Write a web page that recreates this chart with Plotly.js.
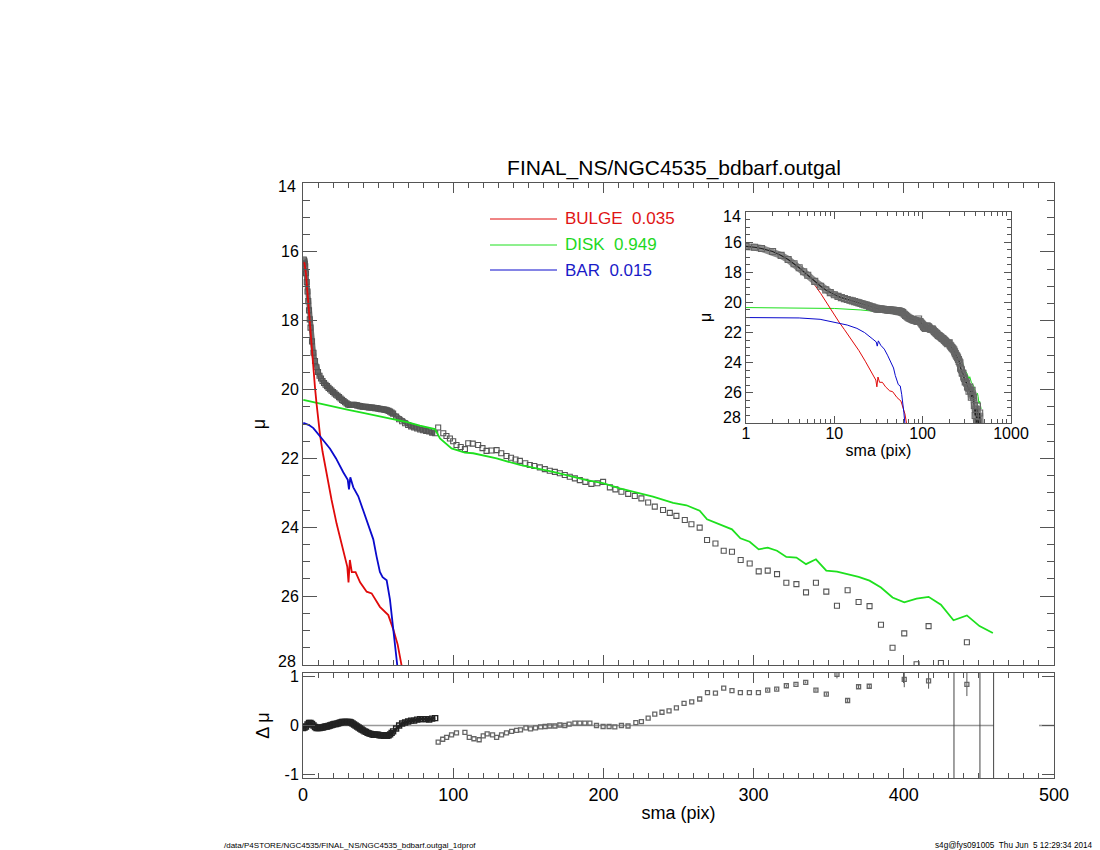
<!DOCTYPE html>
<html><head><meta charset="utf-8">
<script src="https://cdn.plot.ly/plotly-3.0.1.min.js"></script>
<style>html,body{margin:0;padding:0;background:#fff}#chart{width:1100px;height:850px}</style>
</head><body><div id="chart"></div>
<script>
// ---------- DATA ----------
const obsSma = [0.5,0.75,1,1.25,1.5,2,2.5,3,3.5,4,4.5,5,6,7,8,9,10,11,12,13,14,15,16,17,18,19,20,21,22,23,24,25,26,27,28,29,30,31,32,33,34,35,36,37,38,39,40,41,42,43,44,45,46,47,48,49,50,51,52,53,54,55,56,57,58,59,60,62,64,66,68,70,72,74,76,78,80,82,84,86,88,
  90,93.4,95.5,97.8,100,102.2,105,107.8,110,113,116.6,119.5,122.2,125.5,128.9,132,135.5,138.5,141.5,144.4,148,151,154,157.7,161,164.3,167.7,171,174.3,177.6,181,184.3,188,192,196,199.8,204.3,208,212,216.5,220.9,225.3,229.8,234.2,239.7,244.2,248.6,254.2,258.6,264.1,269,274.6,280.1,285.6,291.4,297.4,303.4,309.4,315.6,321.8,328.5,334.9,341.5,348.4,355.5,362.6,369.9,377.2,384.8,392.5,400.3,408.5,416.5,424.7,433.1,442,450.4,459.3];
const obsMu = [16.22,16.25,16.28,16.34,16.42,16.62,16.88,17.15,17.43,17.7,17.96,18.2,18.6,18.93,19.17,19.35,19.49,19.6,19.68,19.75,19.81,19.86,19.9,19.95,19.99,20.03,20.07,20.11,20.15,20.18,20.22,20.26,20.3,20.33,20.37,20.4,20.43,20.45,20.45,20.44,20.44,20.45,20.46,20.47,20.48,20.49,20.5,20.5,20.5,20.51,20.52,20.52,20.52,20.53,20.54,20.54,20.55,20.56,20.57,20.57,20.58,20.59,20.6,20.62,20.64,20.67,20.7,20.78,20.86,20.92,20.98,21.03,21.07,21.1,21.13,21.16,21.18,21.2,21.22,21.25,21.27,
  21.10,21.27,21.35,21.42,21.5,21.61,21.67,21.73,21.56,21.57,21.61,21.7,21.78,21.77,21.76,21.85,21.93,21.98,22.03,22.07,22.14,22.19,22.22,22.26,22.31,22.36,22.39,22.43,22.48,22.53,22.58,22.63,22.68,22.74,22.72,22.68,22.84,22.9,22.97,23.03,23.09,23.16,23.28,23.40,23.50,23.58,23.67,23.79,23.91,24.01,24.37,24.47,24.68,24.71,24.95,25.05,25.28,25.26,25.36,25.61,25.65,25.89,25.61,25.87,26.28,25.83,26.17,26.29,26.83,27.50,27.08,27.98,26.87,27.94,28.6,27.34,28.7,28.9];
const denseLimit = 89;   // inner, finely sampled part of the profile

const bulgeSma = [0.7,1,1.5,2,3,4,5,6,7,8,9,10,11.3,13,15.8,19,22.4,26.8,29.5,30.3,31.2,32.5,35,38,42.4,45.7,48,51.2,56.8,60,63,66];
const bulgeMu  = [16.3,16.34,16.48,16.65,17.2,17.8,18.35,18.85,19.4,19.95,20.4,20.8,21.3,21.8,22.5,23.2,23.9,24.7,25.15,25.6,24.95,25.3,25.3,25.6,25.87,25.92,26.1,26.31,26.55,26.95,27.4,28.1];

const diskSma = [0.2,10,20,30.2,40,50,60,70,77.8,87.8,91.2,98.9,107.8,113.3,128.9,144.4,166.6,188.8,199.7,210.9,233,246.4,255.3,264.1,269,279.7,285.6,291.2,297.4,303.4,309.4,315.6,321.8,328.5,334.9,341.5,348.4,355.5,362.6,369.9,377.2,384.8,392.5,400.3,408.5,416.5,424.7,433.1,442,450.4,459.3];
const diskMu  = [20.3,20.4,20.5,20.59,20.68,20.77,20.85,20.95,21.05,21.15,21.42,21.71,21.83,21.85,22.0,22.19,22.39,22.63,22.72,22.87,23.11,23.29,23.36,23.52,23.77,23.97,24.06,24.32,24.42,24.64,24.59,24.68,24.86,24.88,25.07,24.93,25.26,25.29,25.36,25.44,25.55,25.75,26.04,26.18,26.07,26.02,26.25,26.70,26.56,26.87,27.07];

const barSma = [0.2,2,4,6.9,10,14,18,22,26.8,29.8,30.6,31.5,33.5,36.8,40,43.4,46.8,49,51.2,53,55.7,57.9,61.2,63.5];
const barMu  = [20.97,20.99,21.03,21.12,21.3,21.5,21.72,22.0,22.4,22.62,22.9,22.55,22.84,23.1,23.5,23.95,24.35,24.85,25.3,25.45,25.54,26.1,27.28,28.3];

const resDenseSma = [0,1,2,3,4,5,6,7,8,9,10,11,12,13,14,15,16,17,18,19,20,21,22,23,24,25,26,27,28,29,30,31,32,33,34,35,36,37,38,39,40,41,42,43,44,45,46,47,48,49,50,51,52,53,54,55,56,57,58,59,60,62,64,66,68,70,72,74,76,78,80,82,84,86,88];
const resDenseDmu = [-0.05,-0.04,-0.02,0.02,0.05,0.05,0.03,0.0,-0.03,-0.05,-0.05,-0.05,-0.04,-0.04,-0.03,-0.02,-0.02,-0.01,0.0,0.01,0.02,0.03,0.03,0.04,0.05,0.06,0.07,0.07,0.07,0.07,0.07,0.07,0.06,0.04,0.02,0.0,-0.02,-0.04,-0.06,-0.08,-0.1,-0.12,-0.13,-0.15,-0.16,-0.17,-0.18,-0.19,-0.19,-0.19,-0.19,-0.2,-0.2,-0.2,-0.21,-0.21,-0.21,-0.2,-0.18,-0.15,-0.12,-0.06,0.0,0.04,0.06,0.08,0.1,0.1,0.12,0.13,0.13,0.13,0.12,0.14,0.15];

const resSparseSma = [90,93,95.6,98.9,102.2,107.8,110.7,113.8,117.3,120,122.6,126.2,128.9,132.2,135.5,138.9,142.2,144.8,148.4,151.5,154.8,158.2,161.2,164.3,167.7,171,174.3,177.2,181,184.3,187.6,191,195.4,199.8,203.8,207.6,212,216.4,221.6,225.3,229.8,234.2,239,243.7,248.6,253.7,258.8,264.1,269.3,274.6,280.1,285.6,291.2,297.2,303.2,309.4,315.4,321.8,328.2,334.7,341.5,348.4,355.5,362.6,369.9,377,400.3,416.5,442];
const resSparseDmu = [-0.34,-0.28,-0.24,-0.19,-0.15,-0.14,-0.24,-0.27,-0.29,-0.21,-0.17,-0.19,-0.24,-0.19,-0.15,-0.12,-0.10,-0.09,-0.05,-0.07,-0.05,-0.03,-0.02,-0.01,-0.01,0.01,0.0,0.03,0.05,0.05,0.05,0.05,0.0,-0.02,-0.02,-0.03,0.0,-0.01,0.06,0.08,0.15,0.23,0.27,0.30,0.36,0.45,0.48,0.54,0.67,0.66,0.76,0.71,0.67,0.67,0.67,0.72,0.74,0.81,0.84,0.88,0.72,0.64,1.04,0.51,0.79,0.80,0.94,0.91,0.84];
const resSparseErr = [0,0,0,0,0,0,0,0,0,0,0,0,0,0,0,0,0,0,0,0,0,0,0,0,0,0,0,0,0,0,0,0,0,0,0,0,0,0,0,0,0,0,0,0,0,0,0,0,0,0,0,0,0,0,0,0.02,0.02,0.02,0.02,0.02,0.03,0.03,0.08,0.04,0.04,0.04,0.16,0.16,0.24];

const badSma = [433.4, 450.7, 459.8];          // points with undefined residual (full-height bars)
const zeroLineSma = [0, 460, null, 490, 500];   // zero reference line (gap as in original)

const compNames = ['BULGE', 'DISK', 'BAR'];
const compFrac  = ['0.035', '0.949', '0.015'];
const muTicks = [14, 16, 18, 20, 22, 24, 26, 28];
const resTicks = [-1, 0, 1];
const resTickText = ['-1', '0', '1'];
const logTicks = [1, 10, 100, 1000];
const plotTitle = 'FINAL_NS/NGC4535_bdbarf.outgal';
const footLeft  = '/data/P4STORE/NGC4535/FINAL_NS/NGC4535_bdbarf.outgal_1dprof';
const footRight = 's4g@fys091005  Thu Jun  5 12:29:34 2014';

// ---------- STYLE ----------
const W = 1100, H = 850;
const px = v => v / W, py = v => 1 - v / H;
const FONT = 'Liberation Sans, Arial, Helvetica, sans-serif';
const cRed = '#e00a0a', cGreen = '#1ee01e', cBlue = '#0a0acc';
const axColor = '#555';
const resRange = [-1.07, 1.07];

const denseIdx = obsSma.map((s, i) => s <= denseLimit ? i : -1).filter(i => i >= 0);
const denseSma = denseIdx.map(i => obsSma[i]);
const denseMu = denseIdx.map(i => obsMu[i]);

const traces = [
  {x: denseSma, y: denseMu, xaxis: 'x', yaxis: 'y', mode: 'lines', line: {color: '#6a6a6a', width: 5}},
  {x: obsSma, y: obsMu, xaxis: 'x', yaxis: 'y', mode: 'markers', type: 'scatter',
   marker: {symbol: 'square-open', size: 5, color: '#555', line: {width: 1.1}}},
  {x: diskSma, y: diskMu, xaxis: 'x', yaxis: 'y', mode: 'lines', line: {color: cGreen, width: 1.8}},
  {x: bulgeSma, y: bulgeMu, xaxis: 'x', yaxis: 'y', mode: 'lines', line: {color: cRed, width: 1.8}},
  {x: barSma, y: barMu, xaxis: 'x', yaxis: 'y', mode: 'lines', line: {color: cBlue, width: 1.8}},

  {x: zeroLineSma, y: zeroLineSma.map(v => v === null ? null : 0), xaxis: 'x2', yaxis: 'y2', mode: 'lines',
   line: {color: '#999', width: 1.6}, connectgaps: false},
  {x: badSma.flatMap(s => [s, s, null]), y: badSma.flatMap(() => [resRange[0], resRange[1], null]),
   xaxis: 'x2', yaxis: 'y2', mode: 'lines', line: {color: '#444', width: 1}, connectgaps: false},
  {x: resDenseSma, y: resDenseDmu, xaxis: 'x2', yaxis: 'y2', mode: 'lines+markers',
   line: {color: '#222', width: 3},
   marker: {symbol: 'square-open', size: 5, color: '#222', line: {width: 1.4}}},
  {x: resSparseSma, y: resSparseDmu, xaxis: 'x2', yaxis: 'y2', mode: 'markers',
   marker: {symbol: 'square-open', size: 4, color: '#666', line: {width: 1.3}},
   error_y: {type: 'data', array: resSparseErr, visible: true, color: '#555', thickness: 1, width: 0}},

  {x: diskSma, y: diskMu, xaxis: 'x3', yaxis: 'y3', mode: 'lines', line: {color: cGreen, width: 1}},
  {x: bulgeSma, y: bulgeMu, xaxis: 'x3', yaxis: 'y3', mode: 'lines', line: {color: cRed, width: 1}},
  {x: barSma, y: barMu, xaxis: 'x3', yaxis: 'y3', mode: 'lines', line: {color: cBlue, width: 1}},
  {x: obsSma, y: obsMu, xaxis: 'x3', yaxis: 'y3', mode: 'lines', line: {color: '#8a8a8a', width: 7}},
  {x: obsSma, y: obsMu, xaxis: 'x3', yaxis: 'y3', mode: 'lines+markers',
   line: {color: '#222', width: 1.2},
   marker: {symbol: 'square-open', size: 6, color: '#666', line: {width: 1.1}}}
];

const logMinor = [];
[1, 10, 100].forEach(d => { for (let k = 2; k <= 9; k++) logMinor.push(k * d); });

const baseAx = {showline: true, linecolor: axColor, linewidth: 1, mirror: 'ticks', ticks: 'inside',
  tickcolor: axColor, showgrid: false, zeroline: false, fixedrange: true,
  tickfont: {family: FONT, size: 16, color: '#000'}};

// end labels of the mu axes are nudged inward (as in the original), drawn as annotations
const hideEnds = arr => arr.map((v, i) => (i === 0 || i === arr.length - 1) ? '' : String(v));

const layout = {
  width: W, height: H, margin: {l: 0, r: 0, t: 0, b: 0},
  paper_bgcolor: '#fff', plot_bgcolor: 'rgba(0,0,0,0)', showlegend: false,
  font: {family: FONT, color: '#000'},
  title: {text: plotTitle, x: px(674), xanchor: 'center', y: py(168), yanchor: 'middle',
          font: {family: FONT, size: 21, color: '#000'}},
  xaxis: Object.assign({}, baseAx, {domain: [px(303), px(1054)], range: [0, 500], anchor: 'y',
    tick0: 0, dtick: 100, ticklen: 10, showticklabels: false,
    minor: {dtick: 10, ticklen: 5, ticks: 'inside', tickcolor: axColor, showgrid: false}}),
  yaxis: Object.assign({}, baseAx, {domain: [py(665), py(183)], range: [28, 14], anchor: 'x',
    tickvals: muTicks, ticktext: hideEnds(muTicks), ticklen: 14,
    minor: {dtick: 0.5, ticklen: 7, ticks: 'inside', tickcolor: axColor, showgrid: false},
    title: {text: 'μ', standoff: 10, font: {family: FONT, size: 18}}}),
  xaxis2: Object.assign({}, baseAx, {domain: [px(303), px(1054)], range: [0, 500], anchor: 'y2',
    tick0: 0, dtick: 100, ticklen: 10, tickfont: {family: FONT, size: 18, color: '#000'},
    minor: {dtick: 10, ticklen: 5, ticks: 'inside', tickcolor: axColor, showgrid: false},
    title: {text: 'sma (pix)', standoff: 2, font: {family: FONT, size: 18}}}),
  yaxis2: Object.assign({}, baseAx, {domain: [py(778), py(673)], range: resRange, anchor: 'x2',
    tickvals: resTicks, ticktext: resTickText, ticklen: 12,
    title: {text: 'Δ μ', standoff: 10, font: {family: FONT, size: 18}}}),
  xaxis3: Object.assign({}, baseAx, {type: 'log', domain: [px(746), px(1011)], range: [0, 3], anchor: 'y3',
    tickvals: logTicks, ticktext: logTicks.map(String), ticklen: 7, ticklabelstandoff: -4,
    tickfont: {family: FONT, size: 16, color: '#000'},
    minor: {tickvals: logMinor, ticklen: 4, ticks: 'inside', tickcolor: axColor, showgrid: false},
    title: {text: 'sma (pix)', standoff: 0, font: {family: FONT, size: 16}}}),
  yaxis3: Object.assign({}, baseAx, {domain: [py(423), py(212)], range: [28, 14], anchor: 'x3',
    tickvals: muTicks, ticktext: hideEnds(muTicks), ticklen: 7,
    tickfont: {family: FONT, size: 16, color: '#000'},
    minor: {dtick: 0.5, ticklen: 4, ticks: 'inside', tickcolor: axColor, showgrid: false},
    title: {text: 'μ', standoff: 8, font: {family: FONT, size: 16}}}),
  shapes: [], annotations: []
};

// nudged end labels
const endLab = (txt, xRight, yPix, size) => layout.annotations.push({xref: 'paper', yref: 'paper',
  x: px(xRight), y: py(yPix), xanchor: 'right', yanchor: 'middle', showarrow: false,
  text: txt, font: {family: FONT, size: size, color: '#000'}});
endLab(String(muTicks[0]), 298, 187, 16);
endLab(String(muTicks[muTicks.length - 1]), 298, 661, 16);
endLab(String(muTicks[0]), 743, 216, 16);
endLab(String(muTicks[muTicks.length - 1]), 743, 417, 16);

const legColors = [cRed, cGreen, cBlue];
const legTextColors = ['#e01414', '#1ed81e', '#1a1ac8'];
const legY = [219, 245, 270];
compNames.forEach((n, i) => {
  layout.shapes.push({type: 'line', xref: 'paper', yref: 'paper', x0: px(490), x1: px(557),
    y0: py(legY[i]), y1: py(legY[i]), line: {color: legColors[i], width: 1}});
  layout.annotations.push({xref: 'paper', yref: 'paper', x: px(563), y: py(legY[i]),
    xanchor: 'left', yanchor: 'middle', showarrow: false,
    text: n + '\u00a0\u00a0' + compFrac[i], font: {family: FONT, size: 17, color: legTextColors[i]}});
});
layout.annotations.push({xref: 'paper', yref: 'paper', x: px(222), y: py(845), xanchor: 'left', yanchor: 'middle',
  showarrow: false, text: footLeft, font: {family: FONT, size: 8, color: '#000'}});
layout.annotations.push({xref: 'paper', yref: 'paper', x: px(1095), y: py(845), xanchor: 'right', yanchor: 'middle',
  showarrow: false, text: footRight.replace(/ /g, '\u00a0'), font: {family: FONT, size: 8.2, color: '#000'}});

Plotly.newPlot('chart', traces, layout, {displayModeBar: false, staticPlot: true});
</script></body></html>
